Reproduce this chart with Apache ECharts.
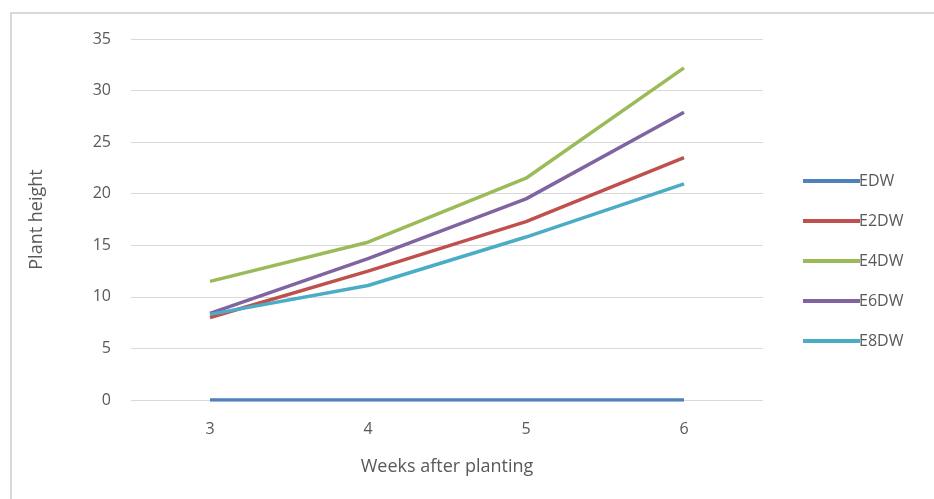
<!DOCTYPE html>
<html>
<head>
<meta charset="utf-8">
<script src="https://cdn.jsdelivr.net/npm/echarts@6/dist/echarts.min.js"></script>
<style>
html,body{margin:0;padding:0;background:#fff;}
#frame{position:absolute;left:10px;top:12px;width:930px;height:495px;border-left:2px solid #d9d9d9;border-top:2px solid #d9d9d9;}
#chart{position:absolute;left:0;top:0;width:934px;height:499px;}
</style>
</head>
<body>
<div id="frame"></div>
<div id="chart"></div>
<script>
var weeks = ['3', '4', '5', '6'];
var seriesNames = ['EDW', 'E2DW', 'E4DW', 'E6DW', 'E8DW'];
var EDW  = [0, 0, 0, 0];
var E2DW = [8.0, 12.5, 17.3, 23.5];
var E4DW = [11.5, 15.3, 21.5, 32.2];
var E6DW = [8.4, 13.7, 19.5, 27.9];
var E8DW = [8.3, 11.1, 15.8, 20.95];
var colors = ['#4f81bd', '#c0504d', '#9bbb59', '#8064a2', '#4bacc6'];
var yTicks = {min: 0, max: 35, interval: 5};

var data = [EDW, E2DW, E4DW, E6DW, E8DW];
var chart = echarts.init(document.getElementById('chart'), null, {renderer: 'canvas'});
chart.setOption({
  animation: false,
  color: colors,
  textStyle: {fontFamily: 'Open Sans, Liberation Sans, sans-serif'},
  grid: {left: 131, right: 171, top: 39, bottom: 99},
  legend: {
    orient: 'vertical',
    left: 798,
    top: 168,
    itemWidth: 57,
    itemHeight: 4,
    itemGap: 24,
    icon: 'rect',
    textStyle: {color: '#595959', fontSize: 16, padding: [0, 0, 0, -6]},
    data: seriesNames
  },
  xAxis: {
    type: 'category',
    data: weeks,
    boundaryGap: true,
    name: 'Weeks after planting',
    nameLocation: 'middle',
    nameGap: 58,
    nameTextStyle: {color: '#595959', fontSize: 18},
    axisLine: {show: false},
    axisTick: {show: false},
    axisLabel: {color: '#595959', fontSize: 16, margin: 21}
  },
  yAxis: {
    type: 'value',
    min: yTicks.min,
    max: yTicks.max,
    interval: yTicks.interval,
    name: 'Plant height',
    nameLocation: 'middle',
    nameGap: 85,
    nameTextStyle: {color: '#595959', fontSize: 18},
    axisLine: {show: false},
    axisTick: {show: false},
    axisLabel: {color: '#595959', fontSize: 16, margin: 20},
    splitLine: {lineStyle: {color: '#d9d9d9', width: 1}}
  },
  series: seriesNames.map(function (n, i) {
    return {
      name: n,
      type: 'line',
      data: data[i],
      symbol: 'none',
      smooth: false,
      lineStyle: {width: 3.5, color: colors[i]},
      itemStyle: {color: colors[i]}
    };
  })
});
</script>
</body>
</html>
